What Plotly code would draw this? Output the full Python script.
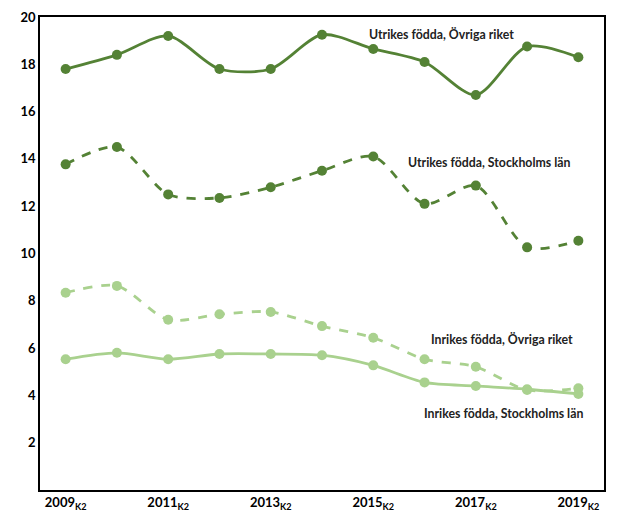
import plotly.graph_objects as go

# kvartal 2 each year, 2009-2019
years = ["2009", "2010", "2011", "2012", "2013", "2014", "2015", "2016", "2017", "2018", "2019"]
tick_years = ["2009", "2011", "2013", "2015", "2017", "2019"]

utrikes_ovriga = [17.8, 18.4, 19.2, 17.8, 17.8, 19.25, 18.65, 18.1, 16.7, 18.75, 18.3]
utrikes_sthlm = [13.77, 14.5, 12.5, 12.35, 12.8, 13.5, 14.1, 12.1, 12.87, 10.26, 10.54]
inrikes_ovriga = [8.34, 8.63, 7.2, 7.43, 7.53, 6.93, 6.44, 5.53, 5.21, 4.23, 4.3]
inrikes_sthlm = [5.53, 5.8, 5.53, 5.75, 5.75, 5.7, 5.27, 4.55, 4.4, 4.26, 4.06]

dark = "#548235"
light = "#A9D18E"
font = "Lato"

fig = go.Figure()

def add(vals, name, color, dash):
    fig.add_trace(go.Scatter(
        x=years, y=vals, name=name, mode="lines+markers",
        line=dict(color=color, width=2.8, dash=dash, shape="spline", smoothing=0.8),
        marker=dict(color=color, size=10),
    ))

add(inrikes_sthlm, "Inrikes födda, Stockholms län", light, "solid")
add(inrikes_ovriga, "Inrikes födda, Övriga riket", light, "dash")
add(utrikes_sthlm, "Utrikes födda, Stockholms län", dark, "dash")
add(utrikes_ovriga, "Utrikes födda, Övriga riket", dark, "solid")

# label positions in paper coords (centre of text)
labels = [
    ("Utrikes födda, Övriga riket", 0.712, 0.962),
    ("Utrikes födda, Stockholms län", 0.796, 0.693),
    ("Inrikes födda, Övriga riket", 0.819, 0.319),
    ("Inrikes födda, Stockholms län", 0.821, 0.161),
]
for text, x, y in labels:
    fig.add_annotation(text="<b>" + text + "</b>", x=x, y=y, xref="paper", yref="paper",
                       xanchor="center", yanchor="middle",
                       showarrow=False, font=dict(family=font, size=12.3, color="#222222"))

fig.update_layout(
    width=627, height=515,
    margin=dict(l=40, r=23, t=17, b=25),
    paper_bgcolor="white", plot_bgcolor="white",
    showlegend=False,
    font=dict(family=font, color="black"),
)
fig.update_xaxes(
    type="category", range=[-0.5, 10.5], automargin=False,
    tickvals=tick_years, ticktext=["<b>" + y + "<sub>K2</sub></b>" for y in tick_years],
    tickfont=dict(size=13), showgrid=False, ticks="",
    showline=True, linecolor="black", linewidth=1.5, mirror=True, zeroline=False,
)
fig.update_yaxes(
    range=[0, 20], tickvals=list(range(2, 21, 2)), automargin=False,
    ticktext=["<b>" + str(v) + "</b>" for v in range(2, 21, 2)],
    tickfont=dict(size=13), showgrid=False, ticks="",
    showline=True, linecolor="black", linewidth=1.5, mirror=True, zeroline=False,
)

fig.write_html("out.html", config={"displayModeBar": False},
               post_script="document.body.style.margin='0';")
